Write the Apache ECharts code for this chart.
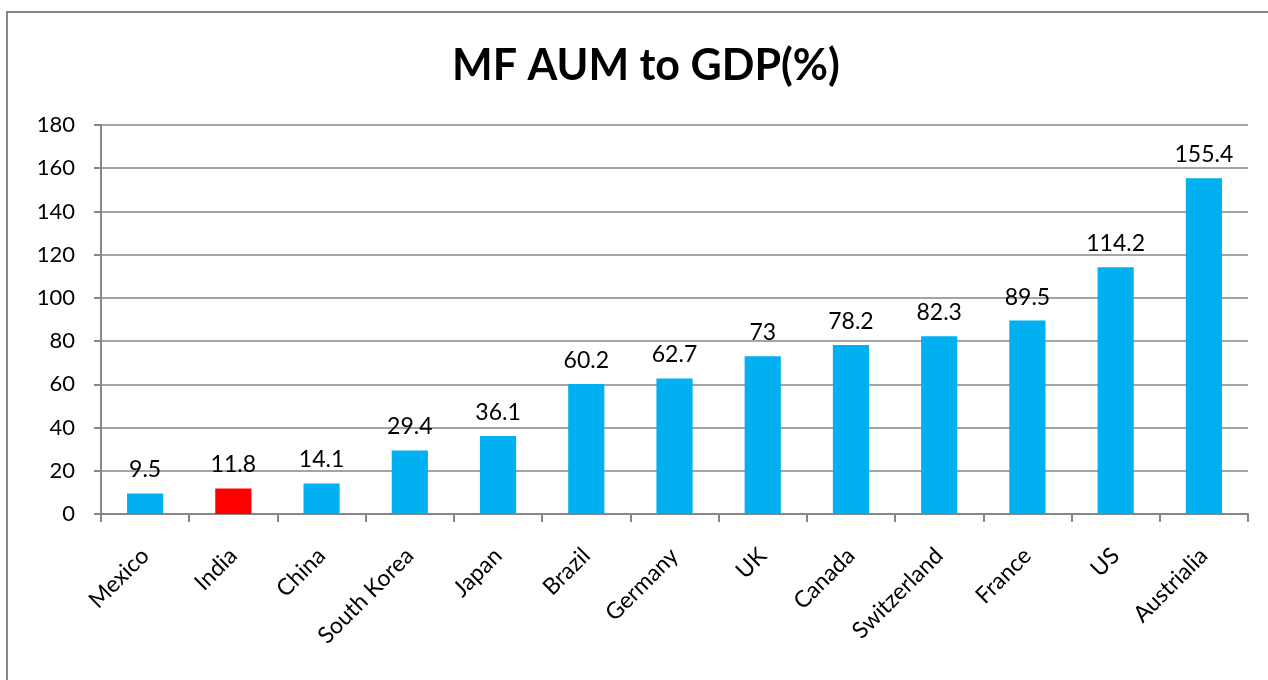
<!DOCTYPE html>
<html>
<head>
<meta charset="utf-8">
<script src="https://cdn.jsdelivr.net/npm/echarts@6/dist/echarts.min.js"></script>
<style>
  html, body { margin: 0; padding: 0; background: #fff; }
  #main { width: 1268px; height: 680px; }
</style>
</head>
<body>
<div id="main"></div>
<script>
const countries = ['Mexico', 'India', 'China', 'South Korea', 'Japan', 'Brazil', 'Germany', 'UK', 'Canada', 'Switzerland', 'France', 'US', 'Austrialia'];
const aumToGdp = [9.5, 11.8, 14.1, 29.4, 36.1, 60.2, 62.7, 73, 78.2, 82.3, 89.5, 114.2, 155.4];
const highlight = 'India';

let chartDom = document.getElementById('main');
let myChart = echarts.init(chartDom);
let option;

const fontFamily = 'Lato, "Open Sans", sans-serif';

option = {
  animation: false,
  textStyle: { fontFamily: fontFamily },
  title: {
    text: 'MF AUM to GDP(%)',
    left: 447,
    top: 40,
    textStyle: {
      fontSize: 43,
      fontWeight: 'bold',
      color: '#000',
      fontFamily: fontFamily
    }
  },
  graphic: [{
    type: 'rect',
    shape: { x: 7, y: 12, width: 1300, height: 700 },
    style: { fill: 'none', stroke: '#878787', lineWidth: 2 },
    silent: true
  }],
  grid: {
    left: 101,
    right: 20,
    top: 125,
    bottom: 166
  },
  xAxis: {
    type: 'category',
    data: countries,
    axisLine: { lineStyle: { color: '#868686', width: 2 } },
    axisTick: { show: true, length: 8, alignWithLabel: false, lineStyle: { color: '#868686', width: 2 } },
    axisLabel: {
      rotate: 45,
      interval: 0,
      margin: 38,
      fontSize: 23,
      color: '#000',
      fontFamily: fontFamily
    }
  },
  yAxis: {
    type: 'value',
    min: 0,
    max: 180,
    interval: 20,
    axisLine: { show: true, lineStyle: { color: '#868686', width: 2 } },
    axisTick: { show: true, length: 7, lineStyle: { color: '#868686', width: 2 } },
    splitLine: { lineStyle: { color: '#868686', width: 1.5 } },
    axisLabel: {
      margin: 26,
      fontSize: 22,
      color: '#000',
      fontFamily: fontFamily
    }
  },
  series: [{
    type: 'bar',
    barWidth: '41%',
    data: aumToGdp.map((v, i) => ({
      value: v,
      itemStyle: { color: countries[i] === highlight ? '#FF0000' : '#00B0F0' }
    })),
    label: {
      show: true,
      position: 'top',
      distance: 12,
      fontSize: 23,
      color: '#000',
      fontFamily: fontFamily
    }
  }]
};

option && myChart.setOption(option);
</script>
</body>
</html>
